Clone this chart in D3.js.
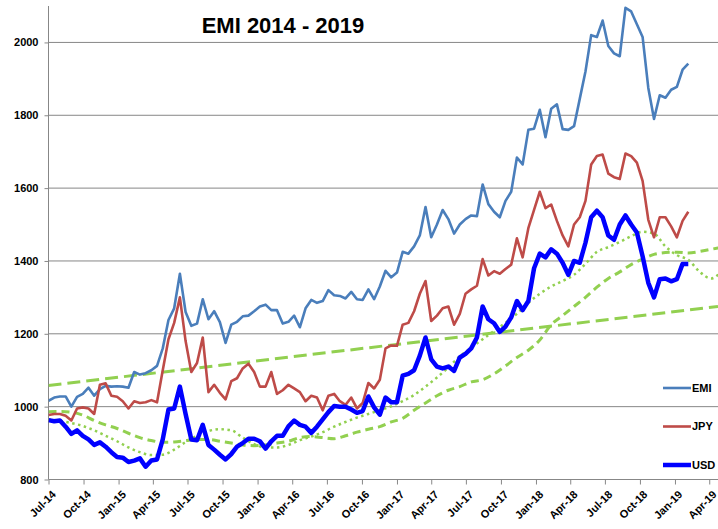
<!DOCTYPE html>
<html>
<head>
<meta charset="utf-8">
<title>EMI 2014 - 2019</title>
<script src="https://d3js.org/d3.v7.min.js"></script>
<style>
  body { margin: 0; background: #fff; }
  svg { display: block; font-family: "Liberation Sans", Arial, sans-serif; }
</style>
</head>
<body>
<svg id="chart"></svg>
<script>
// series are sampled every 15 days from 1 Jul 2014
var seriesStart = "2014-07-01";
var seriesStepDays = 15;

var emi = [1016,1025,1028,1028,1000,1027,1035,1052,1030,1048,1057,1055,1056,1055,1052,1095,1088,1092,1100,1112,
  1160,1238,1270,1365,1260,1222,1228,1295,1240,1262,1232,1175,1225,1233,1248,1250,1262,1275,1280,1265,
  1265,1228,1233,1250,1218,1270,1293,1285,1290,1320,1306,1304,1297,1315,1295,1293,1322,1295,1330,1373,
  1355,1368,1425,1420,1440,1470,1548,1465,1500,1540,1515,1475,1500,1515,1525,1523,1610,1556,1535,1520,
  1565,1590,1684,1665,1760,1763,1815,1740,1818,1830,1762,1760,1770,1845,1920,2020,2015,2060,1990,1970,
  1962,2095,2085,2050,2015,1875,1790,1855,1848,1870,1878,1925,1942];

var jpy = [977,980,980,975,962,995,998,995,980,1060,1064,1030,1027,1015,995,1015,1010,1012,1018,1012,
  1100,1185,1230,1300,1180,1095,1120,1190,1040,1060,1038,1020,1070,1078,1105,1118,1095,1055,1055,1095,
  1035,1045,1060,1050,1040,1015,1030,1025,990,1030,1035,1015,1005,1025,995,1010,1065,1050,1074,1160,
  1168,1167,1225,1230,1262,1310,1345,1235,1250,1270,1275,1225,1255,1310,1322,1332,1405,1360,1372,1365,
  1378,1390,1462,1410,1490,1540,1590,1545,1555,1510,1470,1440,1500,1520,1565,1665,1688,1692,1640,1630,
  1625,1695,1688,1670,1620,1513,1465,1520,1520,1495,1465,1510,1535];

var usd = [963,960,962,945,925,935,920,910,895,902,890,875,862,860,848,852,858,835,852,855,
  910,992,995,1055,980,910,908,950,895,882,868,855,870,890,900,912,912,905,885,905,
  920,920,946,962,950,945,928,945,965,985,1002,1000,1000,992,983,988,1028,998,978,1025,
  1012,1012,1085,1090,1100,1140,1190,1130,1110,1105,1110,1098,1135,1145,1160,1190,1275,1240,1229,1205,
  1220,1245,1290,1265,1290,1380,1420,1410,1432,1420,1395,1362,1400,1395,1450,1520,1538,1520,1470,1458,
  1500,1525,1500,1478,1413,1340,1300,1350,1352,1344,1350,1392,1392];

// the green curves are sampled every 30 days from 1 Jul 2014
var curveStepDays = 30;
var maDotted = [965,961,955,947,935,920,905,888,875,867,868,882,903,920,933,938,935,915,897,888,
  888,895,908,918,930,945,958,970,980,990,1001,1015,1032,1055,1080,1108,1138,1162,1185,1208,
  1230,1255,1285,1310,1330,1345,1362,1392,1425,1438,1452,1468,1480,1475,1440,1416,1403,1370,1352,1375];
var maDashed = [986,987,985,977,962,950,940,927,915,907,902,903,907,910,910,905,900,895,893,895,
  900,905,915,918,915,912,920,930,938,945,958,968,990,1010,1030,1045,1055,1068,1074,1090,
  1112,1135,1155,1183,1225,1250,1275,1300,1328,1352,1370,1390,1405,1418,1423,1424,1422,1426,1432,1438];

// linear trend end points
var trendDates = ["2014-07-01", "2019-04-24"];
var trendValues = [1058, 1275];

var yTicks = [800, 1000, 1200, 1400, 1600, 1800, 2000];
var legendNames = ["EMI", "JPY", "USD"];

var width = 718, height = 529;
var plot = { left: 48.5, right: 718, top: 6, bottom: 479.5 };
var parse = d3.timeParse("%Y-%m-%d");
var t0 = parse(seriesStart);

var x = d3.scaleTime()
    .domain([t0, parse("2019-04-24")])
    .range([plot.left, plot.right]);
var y = d3.scaleLinear()
    .domain([800, 2100])
    .range([plot.bottom, plot.top]);

var svg = d3.select('#chart')
    .attr('width', width)
    .attr('height', height);

svg.append('defs').append('clipPath').attr('id', 'clip')
  .append('rect')
    .attr('x', plot.left).attr('y', plot.top)
    .attr('width', plot.right - plot.left).attr('height', plot.bottom - plot.top);

// gridlines
svg.append('g').selectAll('line').data(yTicks.slice(1)).enter().append('line')
    .attr('x1', plot.left).attr('x2', plot.right)
    .attr('y1', function (d) { return y(d); }).attr('y2', function (d) { return y(d); })
    .style('stroke', '#878787').style('stroke-width', 1);

// y axis
var yAxis = svg.append('g')
    .attr('transform', 'translate(' + plot.left + ',0)')
    .call(d3.axisLeft(y).tickValues(yTicks).tickSize(4).tickPadding(6).tickFormat(d3.format('d')));
yAxis.select('.domain').attr('d', 'M0,' + plot.top + 'V' + plot.bottom);

// x axis
var xTicks = d3.timeMonth.every(3).range(t0, parse("2019-04-02"));
var xAxis = svg.append('g')
    .attr('transform', 'translate(0,' + plot.bottom + ')')
    .call(d3.axisBottom(x).tickValues(xTicks).tickSize(5).tickFormat(d3.timeFormat('%b-%y')));
xAxis.select('.domain').attr('d', 'M' + plot.left + ',0H' + plot.right);
xAxis.selectAll('text')
    .attr('text-anchor', 'end')
    .attr('dy', null)
    .attr('transform', 'translate(2,10) rotate(-45)');

svg.selectAll('.domain, .tick line').style('stroke', '#878787');
svg.selectAll('.tick text')
    .style('font-size', '11px').style('font-weight', 'bold').style('fill', '#000');

function seriesPoints(values, step) {
    return values.map(function (v, i) { return { date: d3.timeDay.offset(t0, i * step), value: v }; });
}

var line = d3.line()
    .x(function (d) { return x(d.date); })
    .y(function (d) { return y(d.value); });

var lines = svg.append('g').attr('clip-path', 'url(#clip)');
var green = '#92d050';

// trend line and the two smoothed curves
lines.append('path')
    .datum(trendDates.map(function (d, i) { return { date: parse(d), value: trendValues[i] }; }))
    .attr('d', line)
    .style('fill', 'none').style('stroke', green).style('stroke-width', 3)
    .style('stroke-dasharray', '13,6');
lines.append('path')
    .datum(seriesPoints(maDashed, curveStepDays))
    .attr('d', line.curve(d3.curveMonotoneX))
    .style('fill', 'none').style('stroke', green).style('stroke-width', 3)
    .style('stroke-dasharray', '8,5');
lines.append('path')
    .datum(seriesPoints(maDotted, curveStepDays))
    .attr('d', line)
    .style('fill', 'none').style('stroke', green).style('stroke-width', 2.5)
    .style('stroke-dasharray', '2.5,3.5');
line.curve(d3.curveLinear);

var series = [
    { name: 'EMI', values: emi, color: '#4a7ebb', width: 2.6 },
    { name: 'JPY', values: jpy, color: '#be4b48', width: 2.6 },
    { name: 'USD', values: usd, color: '#0000ff', width: 4.5 }
];

series.forEach(function (s) {
    lines.append('path')
        .datum(seriesPoints(s.values, seriesStepDays))
        .attr('d', line)
        .style('fill', 'none').style('stroke', s.color).style('stroke-width', s.width)
        .style('stroke-linejoin', 'round');
});

// legend
var legendY = d3.scalePoint().domain(legendNames).range([388, 465]);
var legend = svg.append('g').selectAll('g').data(series).enter().append('g')
    .attr('transform', function (d) { return 'translate(663,' + legendY(d.name) + ')'; });
legend.append('line')
    .attr('x1', 0).attr('x2', 28)
    .style('stroke', function (d) { return d.color; })
    .style('stroke-width', function (d) { return d.width; });
legend.append('text')
    .attr('x', 29).attr('dy', '0.36em')
    .style('font-size', '11px').style('font-weight', 'bold')
    .text(function (d) { return d.name; });

// title
svg.append('text')
    .attr('x', 283).attr('y', 33)
    .attr('text-anchor', 'middle')
    .style('font-size', '22px').style('font-weight', 'bold')
    .text('EMI 2014 - 2019');
</script>
</body>
</html>
